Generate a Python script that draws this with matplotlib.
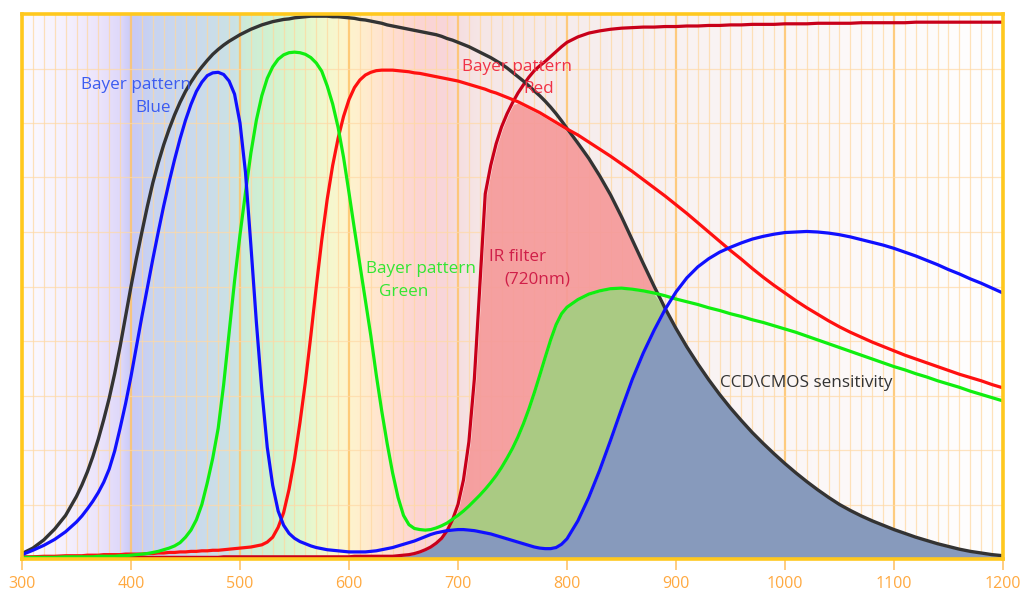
import numpy as np
import matplotlib
matplotlib.use("Agg")
import matplotlib.pyplot as plt

# ---------------- data ----------------
wavelength = (list(range(300, 350, 10)) + list(range(350, 805, 5)) +
              list(range(810, 1210, 10)))

ccd = [0.01, 0.02, 0.035, 0.055, 0.08,
       0.115, 0.136, 0.16, 0.188, 0.22, 0.256, 0.295, 0.34, 0.39, 0.445,
       0.50, 0.552, 0.60, 0.647, 0.69, 0.727, 0.76, 0.789, 0.815, 0.838,
       0.858, 0.875, 0.89, 0.903, 0.915, 0.926,
       0.935, 0.943, 0.95, 0.956, 0.962, 0.967, 0.972, 0.976, 0.98, 0.983,
       0.986, 0.988, 0.99, 0.991, 0.993, 0.994, 0.995, 0.996, 0.996, 0.996,
       0.996, 0.995, 0.995, 0.994, 0.993, 0.992, 0.99, 0.989, 0.987, 0.985,
       0.983, 0.98, 0.978, 0.976, 0.974, 0.972, 0.97, 0.968, 0.966, 0.964,
       0.962, 0.959, 0.955, 0.952, 0.948, 0.944, 0.94, 0.935, 0.93, 0.925,
       0.92, 0.914, 0.908, 0.901, 0.893, 0.885, 0.877, 0.868, 0.859, 0.85,
       0.84, 0.829, 0.817, 0.804, 0.79,
       0.763, 0.735, 0.703, 0.668, 0.628, 0.585, 0.542, 0.50, 0.46, 0.423,
       0.389, 0.358, 0.329, 0.302, 0.277, 0.254, 0.232, 0.212, 0.193, 0.175,
       0.158, 0.142, 0.127, 0.113, 0.10, 0.089, 0.079, 0.07, 0.062, 0.054,
       0.047, 0.04, 0.034, 0.028, 0.023, 0.018, 0.014, 0.011, 0.008, 0.006]

blue = [0.008, 0.016, 0.025, 0.036, 0.05,
        0.068, 0.079, 0.092, 0.106, 0.122, 0.141, 0.165, 0.198, 0.24, 0.285,
        0.335, 0.39, 0.445, 0.498, 0.55, 0.6, 0.648, 0.692, 0.733, 0.771,
        0.805, 0.834, 0.858, 0.875, 0.887, 0.892,
        0.893, 0.889, 0.877, 0.853, 0.80, 0.71, 0.575, 0.435, 0.31, 0.205,
        0.135, 0.088, 0.062, 0.047, 0.038, 0.032, 0.028, 0.024, 0.021, 0.019,
        0.017, 0.016, 0.015, 0.014, 0.013, 0.013, 0.013, 0.013, 0.014, 0.015,
        0.017, 0.019, 0.021, 0.024, 0.027, 0.03, 0.033, 0.037, 0.041, 0.045,
        0.048, 0.05, 0.052, 0.053, 0.054, 0.054, 0.053, 0.052, 0.05, 0.048,
        0.046, 0.043, 0.04, 0.037, 0.034, 0.031, 0.028, 0.025, 0.022, 0.02,
        0.019, 0.019, 0.021, 0.027, 0.037,
        0.07, 0.113, 0.163, 0.218, 0.275, 0.33, 0.378, 0.42, 0.458, 0.49,
        0.516, 0.536, 0.551, 0.563, 0.572, 0.58, 0.587, 0.592, 0.596, 0.599,
        0.6, 0.601, 0.6, 0.598, 0.595, 0.591, 0.586, 0.581, 0.576, 0.57,
        0.563, 0.556, 0.548, 0.54, 0.531, 0.523, 0.514, 0.506, 0.497, 0.488]

green = [0.003, 0.003, 0.003, 0.003, 0.004,
         0.004, 0.004, 0.004, 0.004, 0.005, 0.005, 0.005, 0.005, 0.006, 0.006,
         0.007, 0.008, 0.009, 0.01, 0.012, 0.014, 0.017, 0.02, 0.024, 0.03,
         0.04, 0.053, 0.072, 0.1, 0.14, 0.185,
         0.24, 0.32, 0.415, 0.51, 0.595, 0.672, 0.745, 0.805, 0.85, 0.882,
         0.903, 0.917, 0.925, 0.929, 0.93, 0.929, 0.926, 0.92, 0.91, 0.895,
         0.868, 0.835, 0.792, 0.737, 0.672, 0.605, 0.54, 0.475, 0.41, 0.338,
         0.272, 0.212, 0.158, 0.113, 0.08, 0.063, 0.056, 0.054, 0.053, 0.054,
         0.057, 0.061, 0.066, 0.073, 0.08, 0.088, 0.097, 0.107, 0.117, 0.128,
         0.14, 0.153, 0.168, 0.185, 0.203, 0.224, 0.248, 0.275, 0.305, 0.337,
         0.37, 0.402, 0.43, 0.45, 0.462,
         0.476, 0.486, 0.492, 0.496, 0.497, 0.495, 0.492, 0.488, 0.483, 0.477,
         0.472, 0.467, 0.461, 0.456, 0.45, 0.445, 0.439, 0.434, 0.428, 0.422,
         0.416, 0.409, 0.402, 0.395, 0.388, 0.381, 0.374, 0.367, 0.36, 0.353,
         0.347, 0.34, 0.334, 0.327, 0.321, 0.315, 0.308, 0.302, 0.296, 0.29]

red = [0.004, 0.004, 0.005, 0.005, 0.006,
       0.006, 0.006, 0.007, 0.007, 0.007, 0.008, 0.008, 0.008, 0.008, 0.009,
       0.009, 0.009, 0.009, 0.01, 0.01, 0.011, 0.011, 0.012, 0.012, 0.013,
       0.013, 0.014, 0.014, 0.015, 0.015, 0.016,
       0.016, 0.017, 0.018, 0.019, 0.02, 0.021, 0.022, 0.024, 0.026, 0.031,
       0.04, 0.058, 0.085, 0.128, 0.183, 0.25, 0.325, 0.41, 0.50, 0.585,
       0.66, 0.722, 0.772, 0.812, 0.843, 0.865, 0.879, 0.888, 0.893, 0.896,
       0.897, 0.897, 0.897, 0.896, 0.895, 0.894, 0.892, 0.891, 0.889, 0.887,
       0.885, 0.883, 0.881, 0.879, 0.877, 0.874, 0.871, 0.868, 0.865, 0.862,
       0.858, 0.855, 0.851, 0.847, 0.843, 0.839, 0.834, 0.829, 0.824, 0.819,
       0.813, 0.807, 0.801, 0.795, 0.789,
       0.778, 0.765, 0.752, 0.739, 0.725, 0.711, 0.696, 0.681, 0.666, 0.65,
       0.634, 0.617, 0.6, 0.583, 0.566, 0.55, 0.533, 0.517, 0.502, 0.488,
       0.474, 0.461, 0.449, 0.437, 0.426, 0.416, 0.407, 0.398, 0.39, 0.382,
       0.374, 0.367, 0.36, 0.353, 0.346, 0.339, 0.333, 0.327, 0.32, 0.314]

ir_filter = [0.003, 0.003, 0.003, 0.003, 0.003,
             0.003, 0.003, 0.003, 0.003, 0.003, 0.003, 0.003, 0.003, 0.003, 0.003,
             0.003, 0.003, 0.003, 0.003, 0.003, 0.003, 0.003, 0.003, 0.003, 0.003,
             0.003, 0.003, 0.003, 0.003, 0.003, 0.003,
             0.003, 0.004, 0.004, 0.004, 0.004, 0.004, 0.004, 0.004, 0.004, 0.004,
             0.004, 0.004, 0.004, 0.004, 0.004, 0.004, 0.004, 0.004, 0.004, 0.004,
             0.004, 0.004, 0.004, 0.004, 0.004, 0.005, 0.005, 0.005, 0.005, 0.005,
             0.005, 0.005, 0.005, 0.006, 0.007, 0.008, 0.01, 0.013, 0.017, 0.022,
             0.029, 0.038, 0.052, 0.072, 0.1, 0.145, 0.215, 0.33, 0.5, 0.67,
             0.722, 0.762, 0.793, 0.817, 0.837, 0.855, 0.87, 0.884, 0.896, 0.905,
             0.913, 0.922, 0.931, 0.94, 0.948,
             0.958, 0.965, 0.969, 0.972, 0.974, 0.975, 0.976, 0.976, 0.977, 0.977,
             0.978, 0.978, 0.979, 0.979, 0.98, 0.98, 0.981, 0.981, 0.981, 0.982,
             0.982, 0.982, 0.983, 0.983, 0.983, 0.983, 0.984, 0.984, 0.984, 0.984,
             0.984, 0.985, 0.985, 0.985, 0.985, 0.985, 0.985, 0.985, 0.985, 0.985]

x_ticks = [300, 400, 500, 600, 700, 800, 900, 1000, 1100, 1200]

# background spectrum tint stops
bg_wl = [300, 340, 370, 390, 398, 402, 420, 460, 495, 505, 530, 555, 575, 595,
         615, 640, 665, 690, 700, 720, 800, 950, 1100, 1200]
bg_rgb = [(253, 251, 255), (245, 240, 253), (236, 228, 251), (222, 216, 250),
          (205, 205, 248), (200, 202, 246), (201, 212, 240), (202, 218, 236),
          (203, 226, 228), (205, 235, 215), (210, 242, 208), (222, 246, 205),
          (240, 248, 205), (253, 246, 205), (255, 236, 205), (255, 222, 208),
          (252, 212, 210), (248, 214, 218), (246, 222, 224), (245, 230, 230),
          (246, 236, 236), (250, 244, 244), (253, 250, 250), (255, 255, 255)]

# ---------------- figure ----------------
W, H = 1030, 593
fig = plt.figure(figsize=(W / 100, H / 100), dpi=100)
ax = fig.add_axes([22 / W, (H - 559) / H, (1003 - 22) / W, (559 - 14) / H])

wl = np.array(wavelength, dtype=float)
CCD = np.array(ccd); B = np.array(blue); G = np.array(green)
R = np.array(red); IR = np.array(ir_filter)

# background gradient
xs = np.linspace(300, 1200, 901)
cols = np.array(bg_rgb, dtype=float) / 255.0
img = np.stack([np.interp(xs, bg_wl, cols[:, k]) for k in range(3)], axis=-1)[None, :, :]
ax.imshow(img, extent=[300, 1200, 0, 1], aspect="auto", zorder=0,
          interpolation="bilinear")

# grid
for xv in range(300, 1201, 10):
    if xv % 100 == 0:
        ax.axvline(xv, color="#ffc46a", lw=1.6, alpha=0.85, zorder=1)
    else:
        ax.axvline(xv, color="#ffd79e", lw=0.9, alpha=0.7, zorder=1)
for yv in np.arange(0.1, 1.0, 0.1):
    ax.axhline(yv, color="#ffd9a6", lw=0.9, alpha=0.7, zorder=1)

# filled responses (colour x sensor x IR filter)
fill_r = np.minimum.reduce([R, CCD, IR])
fill_g = np.minimum.reduce([G, CCD, IR])
fill_b = np.minimum.reduce([B, CCD, IR])
ax.fill_between(wl, 0, fill_r, facecolor="#f59a9a", edgecolor="#fff0f0",
                lw=2.2, alpha=0.92, zorder=2)
ax.fill_between(wl, 0, fill_g, facecolor="#a6cd82", edgecolor="#cfe8b8",
                lw=1.2, alpha=0.95, zorder=3)
ax.fill_between(wl, 0, fill_b, facecolor="#8698c0", edgecolor="#b4c2e4",
                lw=1.2, alpha=0.95, zorder=4)

# curves
ax.plot(wl, IR, color="#c8001a", lw=2.3, zorder=6)
ax.plot(wl, CCD, color="#333333", lw=2.4, zorder=6)
ax.plot(wl, R, color="#ff1010", lw=2.3, zorder=7)
ax.plot(wl, G, color="#10ee10", lw=2.3, zorder=7)
ax.plot(wl, B, color="#1010ff", lw=2.3, zorder=8)

# labels
fam = ["Open Sans", "DejaVu Sans"]
fs = 12.3
labels = [
    (405, 0.87, "Bayer pattern", "#3c5cf0"),
    (420, 0.828, "Blue", "#3c5cf0"),
    (754, 0.903, "Bayer pattern", "#f03246"),
    (774, 0.862, "Red", "#f03246"),
    (666, 0.532, "Bayer pattern", "#33e633"),
    (650, 0.49, "Green", "#33e633"),
    (755, 0.554, "IR filter", "#d01e48"),
    (772.5, 0.512, "(720nm)", "#d01e48"),
    (1019.7, 0.323, "CCD\\CMOS sensitivity", "#333333"),
]
for lx, ly, s, c in labels:
    ax.text(lx, ly, s, color=c, fontsize=fs, family=fam,
            ha="center", va="center", zorder=9)

# axes styling
ax.set_xlim(300, 1200)
ax.set_ylim(0, 1)
ax.set_yticks([])
ax.set_xticks(x_ticks)
ax.set_xticklabels([str(t) for t in x_ticks], family=fam, fontsize=11.5,
                   color="#ffa940")
ax.tick_params(axis="x", length=8, width=1.2, color="#ffc46a", pad=4)
for sp in ax.spines.values():
    sp.set_color("#ffc81e")
    sp.set_linewidth(2.6)
    sp.set_zorder(10)

fig.savefig("out.png", dpi=100, facecolor="white")
